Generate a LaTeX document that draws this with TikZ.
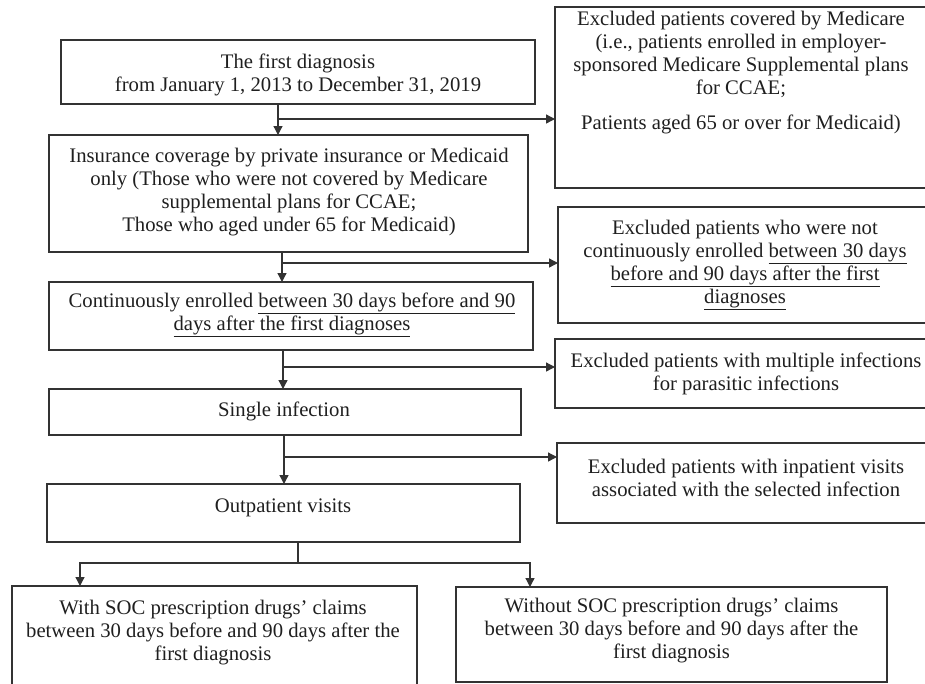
\documentclass[tikz,border=0pt]{standalone}
\usepackage{fontspec}
\setmainfont{Liberation Serif}
\usetikzlibrary{arrows.meta}
\newcommand\diafs{\fontsize{20.7}{23}\selectfont}
\tikzset{
  box/.style={draw=black!80, line width=1.3pt, rectangle, inner sep=0pt, outer sep=0pt},
  txt/.style={align=center, font=\diafs, text=black!88, inner sep=0pt},
  arr/.style={draw=black!80, line width=1.3pt, -{Triangle[length=9pt,width=9pt]}},
  ln/.style={draw=black!80, line width=1.3pt},
}
\begin{document}
\begin{tikzpicture}[x=1pt,y=-1pt]
\useasboundingbox (0,0) rectangle (925,683);
% main column boxes
\node[box, minimum width=474pt, minimum height=64pt] (B1) at (298,72) {};
\node[txt] (B1t) at (298,75) {The first diagnosis\\from January 1, 2013 to December 31, 2019};

\node[box, minimum width=479pt, minimum height=117pt] (B2) at (288.5,193.5) {};
\node[txt] (B2t) at (289,192) {Insurance coverage by private insurance or Medicaid\\only (Those who were not covered by Medicare\\supplemental plans for CCAE;\\Those who aged under 65 for Medicaid)};

\node[box, minimum width=484pt, minimum height=68pt] (B3) at (291,316) {};
\node[txt] (B3t) at (292,315) {Continuously enrolled \underline{between 30 days before and 90}\\\underline{days after the first diagnoses}};

\node[box, minimum width=472pt, minimum height=46pt] (B4) at (285,412) {};
\node[txt] (B4t) at (284,411) {Single infection};

\node[box, minimum width=473pt, minimum height=58pt] (B5) at (283.5,513) {};
\node[txt] (B5t) at (283,508) {Outpatient visits};

% exclusion boxes
\node[box, minimum width=380pt, minimum height=181pt] (E1) at (745,97.5) {};
\node[txt] (E1t) at (741,73) {Excluded patients covered by Medicare\\(i.e., patients enrolled in employer-\\sponsored Medicare Supplemental plans\\for CCAE;\\[12pt]Patients aged 65 or over for Medicaid)};

\node[box, minimum width=377pt, minimum height=116pt] (E2) at (746.5,265) {};
\node[txt] (E2t) at (745,265) {Excluded patients who were not\\continuously enrolled \underline{between 30 days}\\\underline{before and 90 days after the first}\\\underline{diagnoses}};

\node[box, minimum width=380pt, minimum height=69pt] (E3) at (745,373.5) {};
\node[txt] (E3t) at (746,374) {Excluded patients with multiple infections\\for parasitic infections};

\node[box, minimum width=378pt, minimum height=80pt] (E4) at (746,483) {};
\node[txt] (E4t) at (746,478) {Excluded patients with inpatient visits\\associated with the selected infection};

% bottom boxes
\node[box, minimum width=405pt, minimum height=109pt] (BL) at (214.5,640.5) {};
\node[txt] (BLt) at (213,633) {With SOC prescription drugs' claims\\between 30 days before and 90 days after the\\first diagnosis};

\node[box, minimum width=431pt, minimum height=95pt] (BR) at (671.5,634.5) {};
\node[txt] (BRt) at (671.5,631) {Without SOC prescription drugs' claims\\between 30 days before and 90 days after the\\first diagnosis};

% connectors
\coordinate (v1) at (278,119);
\draw[arr] (v1 |- B1.south) -- (v1 |- B2.north);
\draw[arr] (v1) -- (v1 -| E1.west);

\coordinate (v2) at (282,263);
\draw[arr] (v2 |- B2.south) -- (v2 |- B3.north);
\draw[arr] (v2) -- (v2 -| E2.west);

\coordinate (v3) at (283,367);
\draw[arr] (v3 |- B3.south) -- (v3 |- B4.north);
\draw[arr] (v3) -- (v3 -| E3.west);

\coordinate (v4) at (284,457);
\draw[arr] (v4 |- B4.south) -- (v4 |- B5.north);
\draw[arr] (v4) -- (v4 -| E4.west);

\coordinate (s) at (298,563);
\coordinate (lA) at (80,563);
\coordinate (rA) at (530,563);
\draw[ln] (s |- B5.south) -- (s);
\draw[arr] (s) -- (lA) -- (lA |- BL.north);
\draw[arr] (s) -- (rA) -- (rA |- BR.north);
\end{tikzpicture}
\end{document}
